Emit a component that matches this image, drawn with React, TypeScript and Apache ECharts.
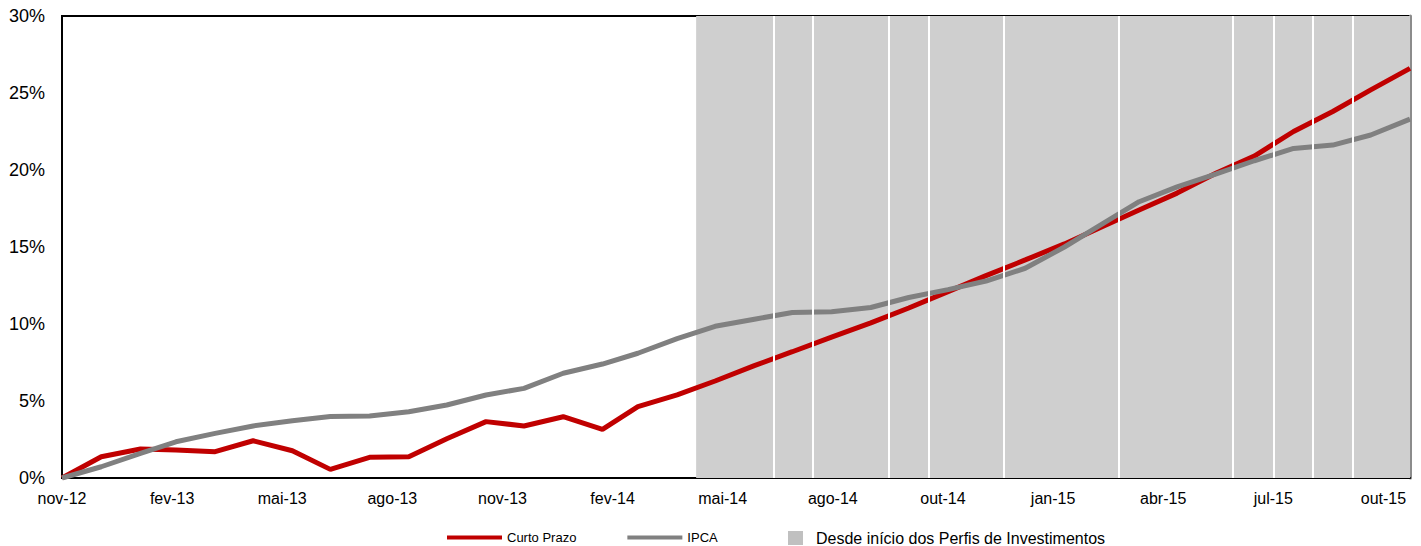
import React, { useEffect, useRef } from "react";
import * as echarts from "echarts";

// Month-end observation dates
const dates = [
  "2012-11-30", "2012-12-31", "2013-01-31", "2013-02-28", "2013-03-31", "2013-04-30",
  "2013-05-31", "2013-06-30", "2013-07-31", "2013-08-31", "2013-09-30", "2013-10-31",
  "2013-11-30", "2013-12-31", "2014-01-31", "2014-02-28", "2014-03-31", "2014-04-30",
  "2014-05-31", "2014-06-30", "2014-07-31", "2014-08-31", "2014-09-30", "2014-10-31",
  "2014-11-30", "2014-12-31", "2015-01-31", "2015-02-28", "2015-03-31", "2015-04-30",
  "2015-05-31", "2015-06-30", "2015-07-31", "2015-08-31", "2015-09-30", "2015-10-31",
];

// Cumulative return, %
const curtoPrazo = [
  0, 1.38, 1.88, 1.82, 1.71, 2.42, 1.77, 0.56, 1.34, 1.38, 2.55, 3.66,
  3.38, 3.98, 3.16, 4.63, 5.4, 6.3, 7.3, 8.2, 9.15, 10.07, 11.04, 12.1,
  13.14, 14.16, 15.2, 16.25, 17.4, 18.5, 19.8, 20.9, 22.5, 23.8, 25.2, 26.6,
];

const ipca = [
  0, 0.73, 1.6, 2.35, 2.9, 3.38, 3.72, 4.0, 4.03, 4.3, 4.74, 5.39,
  5.82, 6.8, 7.4, 8.1, 9.05, 9.85, 10.31, 10.75, 10.8, 11.07, 11.72, 12.23,
  12.79, 13.62, 15.0, 16.4, 17.94, 18.9, 19.75, 20.6, 21.4, 21.62, 22.27, 23.3,
];

// Period since the start of the investment profiles
const perfisStart = "2014-04-15";
const perfisDividers = [
  "2014-06-15", "2014-07-16", "2014-09-14", "2014-10-16", "2014-12-14",
  "2015-03-15", "2015-06-13", "2015-07-15", "2015-08-15", "2015-09-16",
];

const monthNames = ["jan", "fev", "mar", "abr", "mai", "jun", "jul", "ago", "set", "out", "nov", "dez"];
const labelStepDays = 87;

const seriesNames = ["Curto Prazo", "IPCA", "Desde início dos Perfis de Investimentos"];

const DAY = 86400000;
const parse = (s: string) => {
  const [y, m, d] = s.split("-").map(Number);
  return Date.UTC(y, m - 1, d);
};
const base = parse(dates[0]);
const dayOf = (s: string) => Math.round((parse(s) - base) / DAY);

const FONT = "'Liberation Sans', Arial, sans-serif";

export default function App() {
  const ref = useRef<HTMLDivElement>(null);

  useEffect(() => {
    if (!ref.current) return;
    const chart = echarts.init(ref.current, undefined, { renderer: "svg" });
    const xMax = dayOf(dates[dates.length - 1]);

    const option: any = {
      animation: false,
      backgroundColor: "#fff",
      textStyle: { fontFamily: FONT },
      grid: {
        left: 62,
        right: 11,
        top: 16,
        bottom: 68,
        show: true,
        borderColor: "#000",
        borderWidth: 2,
        backgroundColor: "transparent",
      },
      legend: [
        {
          data: [{ name: seriesNames[0] }, { name: seriesNames[1] }],
          left: 447,
          top: 531,
          padding: 0,
          icon: "rect",
          itemWidth: 55,
          itemHeight: 4,
          itemGap: 51,
          selectedMode: false,
          textStyle: { fontSize: 13, color: "#000", fontFamily: FONT },
        },
        {
          data: [{ name: seriesNames[2], itemStyle: { color: "#C0C0C0" } }],
          left: 788,
          top: 530,
          padding: 0,
          icon: "rect",
          itemWidth: 15,
          itemHeight: 14,
          selectedMode: false,
          textStyle: { fontSize: 16, color: "#000", fontFamily: FONT, padding: [0, 0, 0, 8] },
        },
      ],
      xAxis: {
        type: "value",
        min: 0,
        max: xMax,
        interval: labelStepDays,
        axisLine: { show: true, lineStyle: { color: "#000", width: 2 } },
        axisTick: { show: false },
        splitLine: { show: false },
        axisLabel: {
          show: true,
          showMaxLabel: false,
          margin: 12,
          fontSize: 16,
          color: "#000",
          fontFamily: FONT,
          formatter: (v: number) => {
            const d = new Date(base + Math.round(v) * DAY);
            const yy = String(d.getUTCFullYear() % 100).padStart(2, "0");
            return `${monthNames[d.getUTCMonth()]}-${yy}`;
          },
        },
      },
      yAxis: [
        {
          type: "value",
          min: 0,
          max: 30,
          interval: 5,
          axisLine: { show: true, lineStyle: { color: "#000", width: 2 } },
          axisTick: { show: false },
          splitLine: { show: false },
          axisLabel: {
            margin: 17,
            fontSize: 18,
            color: "#000",
            fontFamily: FONT,
            formatter: "{value}%",
          },
        },
        {
          type: "value",
          position: "right",
          min: 0,
          max: 30,
          interval: 5,
          axisLine: { show: true, lineStyle: { color: "#8c8c8c", width: 3 } },
          axisTick: { show: false },
          axisLabel: { show: false },
          splitLine: { show: false },
        },
      ],
      series: [
        {
          name: seriesNames[0],
          type: "line",
          z: 3,
          symbol: "none",
          showSymbol: false,
          lineStyle: { color: "#C00000", width: 5 },
          itemStyle: { color: "#C00000" },
          data: dates.map((d, i) => [dayOf(d), curtoPrazo[i]]),
        },
        {
          name: seriesNames[1],
          type: "line",
          z: 4,
          symbol: "none",
          showSymbol: false,
          lineStyle: { color: "#808080", width: 5 },
          itemStyle: { color: "#808080" },
          data: dates.map((d, i) => [dayOf(d), ipca[i]]),
        },
        {
          name: seriesNames[2],
          type: "line",
          z: 1,
          symbol: "none",
          itemStyle: { color: "#C0C0C0" },
          lineStyle: { width: 0 },
          data: [],
          markArea: {
            silent: true,
            itemStyle: { color: "#CFCFCF" },
            label: { show: false },
            data: [[{ xAxis: dayOf(perfisStart) }, { xAxis: xMax }]],
          },
          markLine: {
            silent: true,
            symbol: ["none", "none"],
            label: { show: false },
            lineStyle: { color: "#ffffff", width: 2, type: "solid" },
            data: perfisDividers.map((d) => ({ xAxis: dayOf(d) })),
          },
        },
      ],
    };

    chart.setOption(option);
    return () => chart.dispose();
  }, []);

  return (
    <div
      ref={ref}
      style={{ position: "absolute", left: 0, top: 0, width: 1421, height: 546 }}
    />
  );
}
